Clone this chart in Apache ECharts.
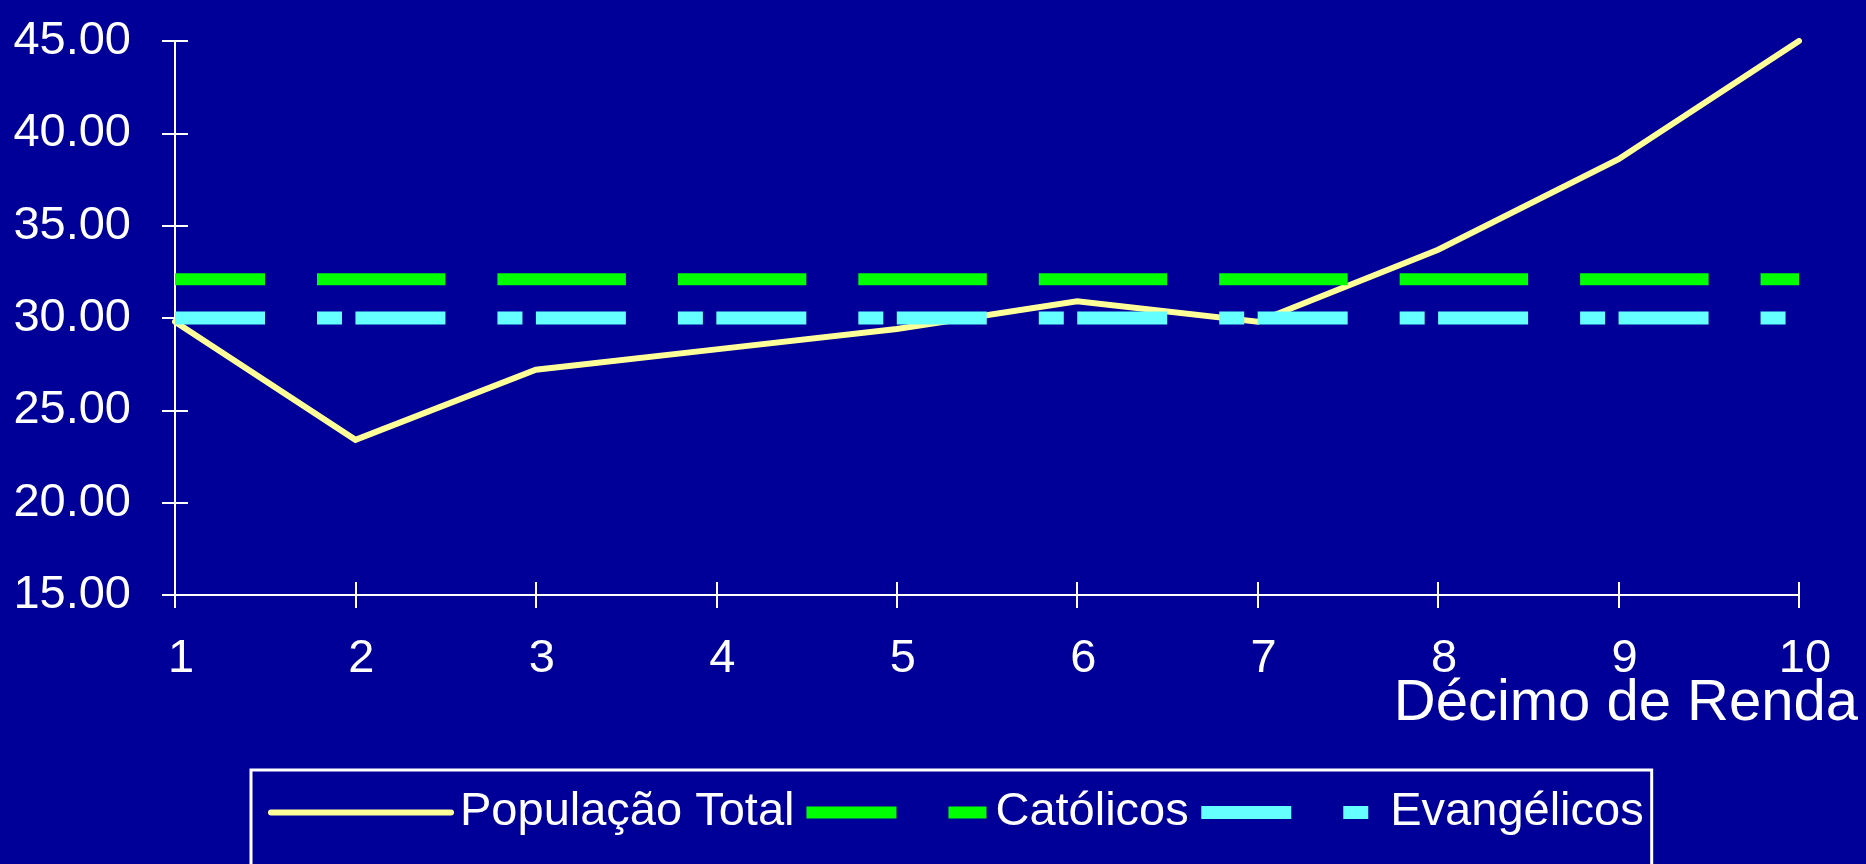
<!DOCTYPE html>
<html>
	<head>
		<meta charset="UTF-8">
		<title>Décimo de Renda</title>
		<script src="https://cdn.jsdelivr.net/npm/echarts@6/dist/echarts.min.js"></script>
		<style>
			html, body { margin: 0; padding: 0; background: #000099; }
		</style>
	</head>
	<body>
		<div id="main" style="width:1866px;height:864px"></div>
		<script>
			// décimos de renda (eixo x)
			var decimos = ['1', '2', '3', '4', '5', '6', '7', '8', '9', '10'];
			// valores
			var populacaoTotal = [29.8, 23.4, 27.2, 28.3, 29.4, 30.9, 29.8, 33.7, 38.6, 45.0];
			var catolicos = [32.1, 32.1, 32.1, 32.1, 32.1, 32.1, 32.1, 32.1, 32.1, 32.1];
			var evangelicos = [30.0, 30.0, 30.0, 30.0, 30.0, 30.0, 30.0, 30.0, 30.0, 30.0];
			var nomes = ['População Total', 'Católicos', 'Evangélicos'];

			var fonte = 'Arial, "Liberation Sans", sans-serif';
			var branco = '#ffffff';
			// espaço entre categorias, o traço recomeça em cada ponto
			var passo = (1866 - 175 - 67) / 9;

			var myChart = echarts.init(document.getElementById('main'));

			var option = {
				backgroundColor: '#000099',
				animation: false,
				// nome do eixo x, alinhado à direita
				title: {
					text: 'Décimo de Renda',
					right: 8,
					top: 675,
					padding: 0,
					textStyle: {
						color: branco,
						fontSize: 58,
						fontWeight: 'normal',
						fontFamily: fonte,
						lineHeight: 58
					}
				},
				grid: {
					left: 175,
					right: 67,
					top: 41,
					bottom: 269,
					outerBoundsMode: 'none'
				},
				legend: {
					data: nomes,
					left: 251,
					top: 770,
					orient: 'horizontal',
					padding: [19, 8, 80, 17],
					borderColor: branco,
					borderWidth: 3,
					itemWidth: 180,
					itemHeight: 14,
					itemGap: 6,
					itemStyle: { opacity: 0 },
					lineStyle: { width: 'inherit', type: 'inherit', cap: 'inherit' },
					textStyle: {
						color: branco,
						fontSize: 47,
						fontFamily: fonte,
						padding: [0, 0, 0, 4]
					}
				},
				xAxis: [{
					type: 'category',
					data: decimos,
					boundaryGap: false,
					position: 'bottom',
					axisLine: { lineStyle: { color: branco, width: 2 } },
					axisTick: { show: true, inside: false, length: 13, lineStyle: { color: branco, width: 2 } },
					axisLabel: {
						color: branco,
						fontSize: 47,
						fontFamily: fonte,
						margin: 41,
						padding: [0, 0, 0, 12]
					},
					splitLine: { show: false }
				}, {
					// marcas internas do eixo x
					type: 'category',
					data: decimos,
					boundaryGap: false,
					position: 'bottom',
					axisLine: { show: false },
					axisTick: { show: true, inside: true, length: 13, lineStyle: { color: branco, width: 2 } },
					axisLabel: { show: false },
					splitLine: { show: false }
				}],
				yAxis: [{
					type: 'value',
					min: 15,
					max: 45,
					interval: 5,
					position: 'left',
					axisLine: { show: true, lineStyle: { color: branco, width: 2 } },
					axisTick: { show: true, inside: false, length: 13, lineStyle: { color: branco, width: 2 } },
					axisLabel: {
						color: branco,
						fontSize: 47,
						fontFamily: fonte,
						margin: 44,
						padding: [0, 0, 16, 0],
						formatter: function(v) { return v.toFixed(2); }
					},
					splitLine: { show: false }
				}, {
					// marcas internas do eixo y
					type: 'value',
					min: 15,
					max: 45,
					interval: 5,
					position: 'left',
					axisLine: { show: false },
					axisTick: { show: true, inside: true, length: 13, lineStyle: { color: branco, width: 2 } },
					axisLabel: { show: false },
					splitLine: { show: false }
				}],
				series: [{
					name: nomes[0],
					type: 'line',
					data: populacaoTotal,
					symbol: 'none',
					lineStyle: { color: '#ffff99', width: 6, cap: 'round', join: 'miter' },
					itemStyle: { color: '#ffff99' }
				}, {
					name: nomes[1],
					type: 'line',
					data: catolicos,
					symbol: 'none',
					lineStyle: { color: '#00ff00', width: 12, cap: 'butt', type: [90, 52, passo - 142, 0] },
					itemStyle: { color: '#00ff00' }
				}, {
					name: nomes[2],
					type: 'line',
					data: evangelicos,
					symbol: 'none',
					lineStyle: { color: '#66ffff', width: 13, cap: 'butt', type: [90, 52, 25, passo - 167] },
					itemStyle: { color: '#66ffff' }
				}]
			};

			myChart.setOption(option);
		</script>
	</body>
</html>
